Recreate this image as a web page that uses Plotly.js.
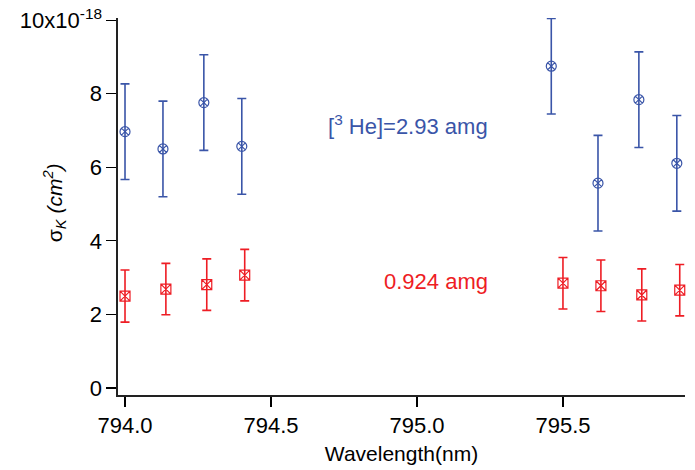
<!DOCTYPE html>
<html>
<head>
<meta charset="utf-8">
<script src="https://cdn.plot.ly/plotly-3.0.1.min.js"></script>
<style>html,body{margin:0;padding:0;background:#fff}#chart{width:695px;height:470px}</style>
</head>
<body>
<div id="chart"></div>
<script>
// Cross sections in units of 1e-18 cm^2
const wlHigh = [794.00, 794.13, 794.27, 794.40, 795.46, 795.62, 795.76, 795.89];
const sigmaHigh = [6.97, 6.50, 7.76, 6.57, 8.75, 5.57, 7.84, 6.11];
const errHigh = [1.30, 1.30, 1.30, 1.30, 1.30, 1.30, 1.30, 1.30];

const wlLow = [794.00, 794.14, 794.28, 794.41, 795.50, 795.63, 795.77, 795.90];
const sigmaLow = [2.50, 2.69, 2.81, 3.07, 2.85, 2.78, 2.53, 2.66];
const errLow = [0.71, 0.70, 0.70, 0.70, 0.70, 0.70, 0.71, 0.70];

const yTickVals = [0, 2, 4, 6, 8, 10];
const yTickText = ['0', '2', '4', '6', '8', '10x10<sup>-18</sup>'];
const xTickVals = [794.0, 794.5, 795.0, 795.5];
const xTickText = ['794.0', '794.5', '795.0', '795.5'];

const blue = '#3a55a8';
const red = '#ee1d24';
const font = 'Liberation Sans, Arial, Helvetica, sans-serif';

const traces = [
  {
    x: wlHigh, y: sigmaHigh, type: 'scatter', mode: 'markers',
    marker: {symbol: 'circle-x-open', size: 10, color: blue, line: {width: 1.2, color: blue}},
    error_y: {type: 'data', array: errHigh, visible: true, color: blue, thickness: 1.6, width: 4.5},
    showlegend: false, cliponaxis: false
  },
  {
    x: wlLow, y: sigmaLow, type: 'scatter', mode: 'markers',
    marker: {symbol: 'square-x-open', size: 10, color: red, line: {width: 1.2, color: red}},
    error_y: {type: 'data', array: errLow, visible: true, color: red, thickness: 1.6, width: 4.5},
    showlegend: false, cliponaxis: false
  }
];

const layout = {
  width: 695, height: 470,
  margin: {l: 118, r: 10, t: 18, b: 75},
  paper_bgcolor: '#fff', plot_bgcolor: '#fff',
  font: {family: font, size: 22, color: '#000'},
  xaxis: {
    range: [793.976, 795.918],
    tickvals: xTickVals, ticktext: xTickText,
    ticks: 'outside', ticklen: 10, tickwidth: 1.2, tickcolor: '#000',
    showline: true, linecolor: '#222', linewidth: 1.6,
    showgrid: false, zeroline: false,
    tickfont: {family: font, size: 22, color: '#000'},
    title: {text: 'Wavelength(nm)', font: {family: font, size: 21, color: '#000'}, standoff: 9}
  },
  yaxis: {
    range: [-0.19, 10.06],
    tickvals: yTickVals, ticktext: yTickText,
    ticks: 'outside', ticklen: 10, tickwidth: 1.2, tickcolor: '#000',
    showline: true, linecolor: '#222', linewidth: 1.6,
    showgrid: false, zeroline: false,
    tickfont: {family: font, size: 22, color: '#000'}
  },
  annotations: [
    {
      text: 'σ<sub><i>K</i></sub> <i>(cm<sup>2</sup>)</i>', xref: 'paper', yref: 'paper',
      x: -0.112, y: 0.51, xanchor: 'center', yanchor: 'middle', textangle: -90,
      showarrow: false, font: {family: font, size: 21, color: '#000'}
    },
    {
      text: '[<sup>3</sup> He]=2.93 amg', xref: 'paper', yref: 'paper',
      x: 0.6558, y: 0.715, xanchor: 'right', yanchor: 'middle',
      showarrow: false, font: {family: font, size: 22, color: blue}
    },
    {
      text: '0.924 amg', xref: 'paper', yref: 'paper',
      x: 0.6558, y: 0.302, xanchor: 'right', yanchor: 'middle',
      showarrow: false, font: {family: font, size: 22, color: red}
    }
  ]
};

Plotly.newPlot('chart', traces, layout, {displayModeBar: false, staticPlot: true});
</script>
</body>
</html>
